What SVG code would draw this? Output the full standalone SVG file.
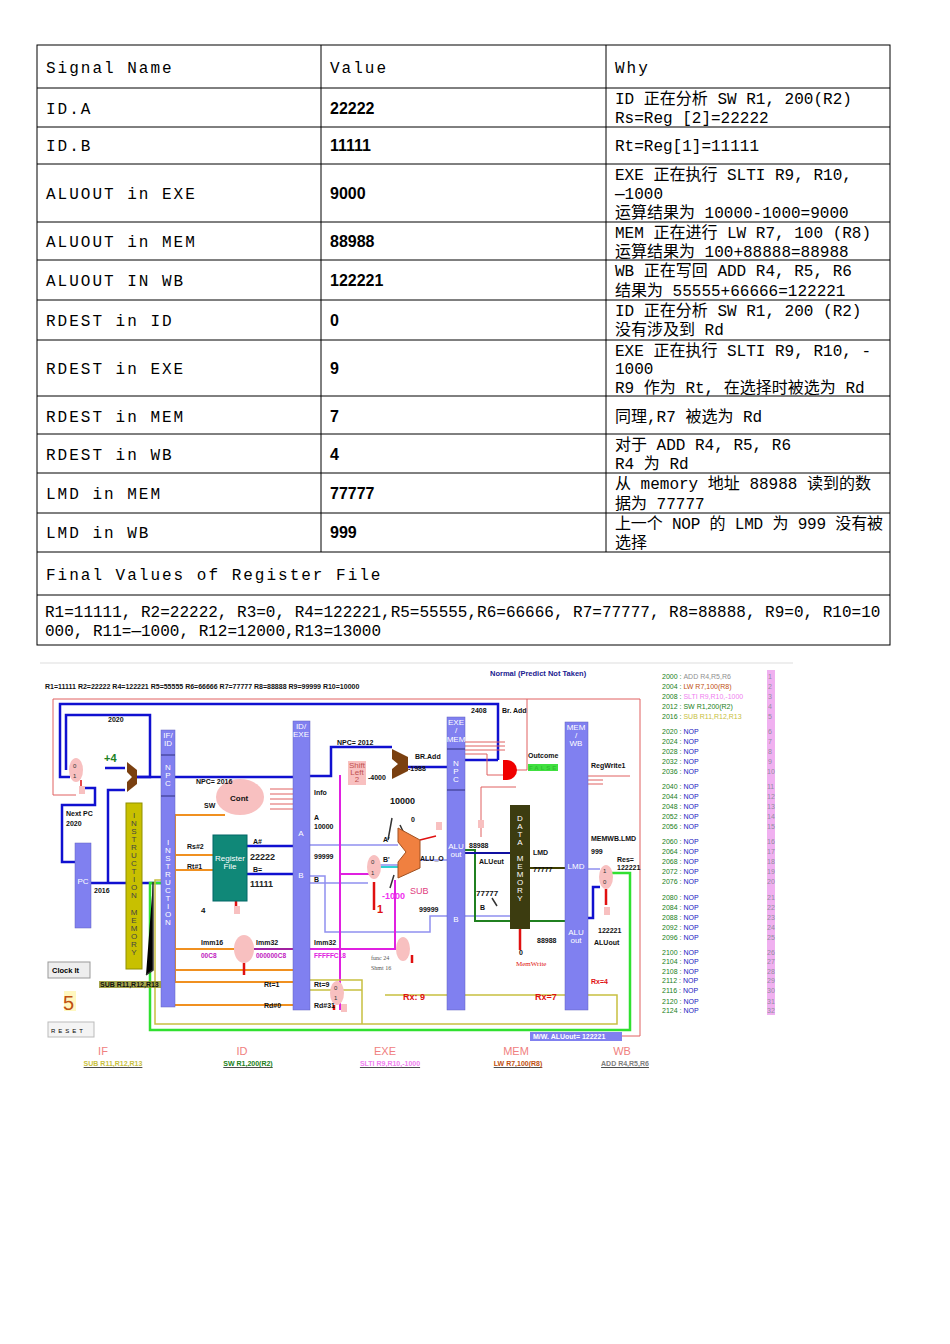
<svg xmlns="http://www.w3.org/2000/svg" width="950" height="1344" viewBox="0 0 950 1344">
<style>
.t{font-family:"Liberation Mono","Noto Sans CJK SC",monospace;font-size:16px;fill:#000}
.w{letter-spacing:2px}
.v{font-family:"Liberation Sans",sans-serif;font-size:16px;font-weight:bold;fill:#000}
.g{stroke:#000;stroke-width:1;fill:none}
.s{font-family:"Liberation Sans",sans-serif;font-size:7px;font-weight:bold;fill:#111}
.n{font-family:"Liberation Sans",sans-serif;font-size:8px;fill:#fff}
.bar{fill:#8080f0;stroke:#6060c0;stroke-width:.5}
.bl{stroke:#1010d0;stroke-width:2.5;fill:none}
.pk{stroke:#e06060;stroke-width:1;fill:none}
.lb{stroke:#9090f0;stroke-width:1.5;fill:none}
.or{stroke:#f09020;stroke-width:2;fill:none}
.ye{stroke:#c8c040;stroke-width:1.5;fill:none}
.gr{stroke:#30e030;stroke-width:2.5;fill:none}
.mg{stroke:#e020e0;stroke-width:2;fill:none}
.dg{stroke:#208020;stroke-width:2;fill:none}
.red{stroke:#e01010;stroke-width:2.5;fill:none}
.li{font-family:"Liberation Sans",sans-serif;font-size:7px;fill:#208020}
.nop{fill:#2020c0}
.num{font-family:"Liberation Sans",sans-serif;font-size:7px;fill:#9090a0}
</style>
<rect width="950" height="1344" fill="#fff"/>
<g id="table">
<rect x="37" y="45" width="853" height="600" class="g"/>
<path class="g" d="M37 88H890M37 127H890M37 164H890M37 222H890M37 260H890M37 300H890M37 340H890M37 396H890M37 434H890M37 473H890M37 513H890M37 552H890M37 595H890M321 45V552M606 45V552"/>
<g class="t w">
<text x="46" y="73">Signal Name</text><text x="330" y="73">Value</text><text x="615" y="73">Why</text>
<text x="46" y="114">ID.A</text><text x="46" y="151">ID.B</text><text x="46" y="199">ALUOUT in EXE</text>
<text x="46" y="247">ALUOUT in MEM</text><text x="46" y="286">ALUOUT IN WB</text><text x="46" y="326">RDEST in ID</text>
<text x="46" y="374">RDEST in EXE</text><text x="46" y="422">RDEST in MEM</text><text x="46" y="460">RDEST in WB</text>
<text x="46" y="499">LMD in MEM</text><text x="46" y="538">LMD in WB</text><text x="46" y="580">Final Values of Register File</text>
</g>
<g class="v">
<text x="330" y="114">22222</text><text x="330" y="151">11111</text><text x="330" y="199">9000</text>
<text x="330" y="247">88988</text><text x="330" y="286">122221</text><text x="330" y="326">0</text>
<text x="330" y="374">9</text><text x="330" y="422">7</text><text x="330" y="460">4</text>
<text x="330" y="499">77777</text><text x="330" y="538">999</text>
</g>
<g class="t">
<text x="615" y="104">ID 正在分析 SW R1, 200(R2)</text><text x="615" y="123">Rs=Reg [2]=22222</text>
<text x="615" y="151">Rt=Reg[1]=11111</text>
<text x="615" y="180">EXE 正在执行 SLTI R9,  R10,</text><text x="615" y="199">—1000</text><text x="615" y="218">运算结果为 10000-1000=9000</text>
<text x="615" y="238">MEM 正在进行 LW R7, 100 (R8)</text><text x="615" y="257">运算结果为 100+88888=88988</text>
<text x="615" y="276">WB 正在写回 ADD R4,  R5, R6</text><text x="615" y="296">结果为 55555+66666=122221</text>
<text x="615" y="316">ID 正在分析 SW R1, 200 (R2)</text><text x="615" y="335">没有涉及到 Rd</text>
<text x="615" y="356">EXE 正在执行 SLTI R9,  R10, -</text><text x="615" y="374">1000</text><text x="615" y="393">R9 作为 Rt, 在选择时被选为 Rd</text>
<text x="615" y="422">同理,R7 被选为 Rd</text>
<text x="615" y="450">对于 ADD R4, R5,  R6</text><text x="615" y="469">R4 为 Rd</text>
<text x="615" y="489">从 memory 地址 88988 读到的数</text><text x="615" y="509">据为 77777</text>
<text x="615" y="529" textLength="268">上一个 NOP 的 LMD 为 999 没有被</text><text x="615" y="548">选择</text>
<text x="45" y="617">R1=11111, R2=22222, R3=0, R4=122221,R5=55555,R6=66666, R7=77777, R8=88888, R9=0, R10=10</text>
<text x="45" y="636">000, R11=—1000, R12=12000,R13=13000</text>
</g>
</g>
<g id="connectors">
<path d="M40 663H793" stroke="#ddd" stroke-width="1"/>
<path class="pk" d="M640 699H53V795H76"/>
<path class="pk" d="M640 699V1036H622"/>
<path class="bl" d="M498 760V704H60V777H70"/>
<path class="bl" d="M66 770V715H150V777H136"/>
<path class="bl" d="M82 788H95V805H62V862H75"/>
<path class="bl" d="M91 883H161M108 883V790H125M105 768H125"/>
<path class="bl" d="M137 777H293M310 776H331V747H392M408 767H447M465 760H498"/>
<path class="pk" d="M465 742H505M465 746H505M465 750H505M465 754H487V775H503M481 837V787H516M516 770H527V699"/>
<path class="pk" d="M270 789H310M270 794H310M270 799H310M270 804H310M270 809H310M588 776H630M588 780H603M588 784H603"/>
<path class="or" d="M162 871H175M175 815V982H293M175 815H225M175 855H213M175 870H213M175 949H234M175 970H293M175 1005H293"/>
<path d="M254 949H293" stroke="#a020a0" stroke-width="2" fill="none"/>
<path class="bl" d="M247 846H293M247 874H293"/>
<path class="lb" d="M310 845H398M310 876H325V932H430V916H447M310 883H368M380 865H398M420 860H447M465 916H510M588 869H600"/>
<path class="mg" d="M366 775H348M340 775V1010M340 874H370"/>
<path class="mg" d="M310 949H395V880"/>
<path stroke="#30d0d0" stroke-width="2" d="M380 867H398"/>
<path class="red" d="M374 882V910M244 963V975M412 955V963M520 929V950M606 889V905M236 901V910M334 1005V1010"/>
<path stroke="#e01010" stroke-width="1.5" fill="none" d="M420 840L436 836M81 780V790"/>
<path class="dg" d="M465 850H475V921H565"/>
<path stroke="#1010a0" stroke-width="2" fill="none" d="M465 853H510"/>
<path stroke="#404000" stroke-width="2" d="M530 868H565"/>
<path class="bl" d="M588 918H593V887H600"/>
<path class="gr" d="M612 873H630V1030H150V883H165"/>
<path class="ye" d="M310 980H362V1024H155V880H165M310 990H334M340 990H362M385 995H565M588 995H617V1024H362"/>
<path stroke="#333" stroke-width="1.5" d="M153 882V970L146 975M388 840L392 818M400 825L412 850M394 875L390 888M492 898L497 906"/>
</g>
<g id="stage-bars">
<rect class="bar" x="161" y="730" width="14" height="277"/>
<rect class="bar" x="75" y="843" width="16" height="85"/>
<rect class="bar" x="293" y="721" width="17" height="289"/>
<rect class="bar" x="447" y="717" width="18" height="293"/>
<rect class="bar" x="565" y="722" width="23" height="288"/>
<rect x="126" y="803" width="16" height="166" fill="#c8c000" stroke="#909000"/>
<rect x="510" y="805" width="20" height="124" fill="#3c3c10"/>
<rect x="213" y="835" width="34" height="66" fill="#108878" stroke="#066"/>
<rect x="530" y="1032" width="92" height="9" fill="#8080f0"/>
<path d="M161 755H175M161 796H175M447 749H465M447 790H465" stroke="#303080"/>
<path d="M127 762L137 770V784L127 792V782L132 777L127 772Z" fill="#7a4010"/>
<path d="M392 749L408 757V771L392 779V769L398 764L392 759Z" fill="#7a4010"/>
<path d="M398 828L420 840V868L398 878V862L406 852L398 842Z" fill="#f08040" stroke="#a05020"/>
<path d="M503 760H507A10 10 0 0 1 507 780H503Z" fill="#f00000"/>
<ellipse cx="76" cy="770" rx="7" ry="12" fill="#f8c0c0"/>
<ellipse cx="240" cy="797" rx="24" ry="18" fill="#f8c0c0"/>
<ellipse cx="244" cy="949" rx="10" ry="14" fill="#f8c0c0"/>
<ellipse cx="374" cy="867" rx="7" ry="12" fill="#f8c0c0"/>
<ellipse cx="403" cy="949" rx="7" ry="12" fill="#f8c0c0"/>
<ellipse cx="337" cy="993" rx="7" ry="12" fill="#f8c0c0"/>
<ellipse cx="606" cy="877" rx="7" ry="12" fill="#f8c0c0"/>
<rect x="348" y="761" width="18" height="24" fill="#f8c0c0"/>
<rect x="528" y="764" width="30" height="7" fill="#40e040"/>
</g>
<g id="labels">
<text x="490" y="676" font-family="Liberation Sans" font-size="7.5" font-weight="bold" fill="#202090">Normal (Predict Not Taken)</text>
<text x="45" y="689" class="s">R1=11111  R2=22222  R4=122221  R5=55555  R6=66666  R7=77777  R8=88888  R9=99999  R10=10000</text>
<g class="s">
<text x="108" y="722">2020</text><text x="66" y="816">Next PC</text><text x="66" y="826">2020</text><text x="94" y="893">2016</text>
<text x="196" y="784">NPC= 2016</text><text x="204" y="808">SW</text><text x="187" y="849">Rs#2</text><text x="187" y="869">Rt#1</text>
<text x="253" y="844">A#</text><text x="253" y="872">B=</text><text x="201" y="945">Imm16</text><text x="256" y="945">Imm32</text><text x="314" y="945">Imm32</text>
<text x="264" y="987">Rt=1</text><text x="264" y="1008">Rd#0</text><text x="314" y="987">Rt=9</text><text x="314" y="1008">Rd#31</text>
<text x="337" y="745">NPC= 2012</text><text x="415" y="759">BR.Add</text><text x="408" y="771">-1988</text><text x="368" y="780">-4000</text>
<text x="471" y="713">2408</text><text x="502" y="713">Br. Add</text><text x="528" y="758">Outcome</text><text x="591" y="768">RegWrite1</text>
<text x="314" y="795">Info</text><text x="314" y="820">A</text><text x="314" y="829">10000</text><text x="314" y="859">99999</text><text x="314" y="882">B</text>
<text x="383" y="842">A'</text><text x="383" y="862">B'</text><text x="420" y="861">ALU_O</text><text x="411" y="822">0</text>
<text x="469" y="848">88988</text><text x="479" y="864">ALUeut</text><text x="533" y="855">LMD</text><text x="533" y="872">77777</text>
<text x="419" y="912">99999</text><text x="480" y="910">B</text><text x="537" y="943">88988</text><text x="591" y="841">MEMWB.LMD</text><text x="591" y="854">999</text>
<text x="617" y="862">Res=</text><text x="617" y="870">122221</text><text x="598" y="933">122221</text><text x="594" y="945">ALUout</text>
<text x="533" y="1039" fill="#fff">M/W. ALUout=   122221</text>
</g>
<rect x="99" y="981" width="62" height="7" fill="#909020" opacity=".8"/>
<text x="100" y="987" class="s" fill="#fff" font-size="6">SUB R11,R12,R13</text>
<g font-family="Liberation Sans" font-weight="bold">
<text x="104" y="762" font-size="11" fill="#208020">+4</text>
<text x="230" y="801" font-size="8" fill="#111">Cont</text>
<text x="250" y="860" font-size="9" fill="#222">22222</text><text x="250" y="887" font-size="9" fill="#222">11111</text>
<text x="390" y="804" font-size="9" fill="#111">10000</text><text x="382" y="899" font-size="9" fill="#f030f0">-1000</text>
<text x="377" y="913" font-size="11" fill="#e01010">1</text><text x="201" y="958" font-size="6.5" fill="#c020c0">00C8</text>
<text x="256" y="958" font-size="6.5" fill="#c020c0">000000C8</text><text x="314" y="958" font-size="6.5" fill="#e020e0">FFFFFC18</text>
<text x="403" y="1000" font-size="9" fill="#e01010">Rx: 9</text><text x="535" y="1000" font-size="9" fill="#e01010">Rx=7</text>
<text x="591" y="984" font-size="7" fill="#e01010">Rx=4</text><text x="476" y="896" font-size="8" fill="#111">77777</text>
<text x="201" y="913" font-size="8" fill="#111">4</text>
</g>
<text x="410" y="894" font-family="Liberation Sans" font-size="9" fill="#e04080">SUB</text>
<text x="371" y="960" font-family="Liberation Serif" font-size="6" fill="#555">func 24</text>
<text x="371" y="970" font-family="Liberation Serif" font-size="6" fill="#555">Shmt 16</text>
<text x="516" y="966" font-family="Liberation Serif" font-size="7" fill="#e01010">MemWrite</text>
<text x="519" y="955" class="s" fill="#e01010">0</text>
<g class="n" text-anchor="middle">
<text x="168" y="738">IF/</text><text x="168" y="746">ID</text>
<text x="168" y="770">N</text><text x="168" y="778">P</text><text x="168" y="786">C</text>
<text x="168" y="845">I</text><text x="168" y="853">N</text><text x="168" y="861">S</text><text x="168" y="869">T</text><text x="168" y="877">R</text><text x="168" y="885">U</text><text x="168" y="893">C</text><text x="168" y="901">T</text><text x="168" y="909">I</text><text x="168" y="917">O</text><text x="168" y="925">N</text>
<text x="301" y="729">ID/</text><text x="301" y="737">EXE</text><text x="301" y="836">A</text><text x="301" y="878">B</text>
<text x="456" y="725">EXE</text><text x="456" y="733">/</text><text x="456" y="742">MEM</text><text x="456" y="766">N</text><text x="456" y="774">P</text><text x="456" y="782">C</text>
<text x="456" y="849">ALU</text><text x="456" y="857">out</text><text x="456" y="922">B</text>
<text x="576" y="730">MEM</text><text x="576" y="738">/</text><text x="576" y="746">WB</text><text x="576" y="869">LMD</text><text x="576" y="935">ALU</text><text x="576" y="943">out</text>
<text x="83" y="884">PC</text>
<text x="230" y="861">Register</text><text x="230" y="869">File</text>
<text x="357" y="768" fill="#c05050">Shift</text><text x="357" y="775" fill="#c05050">Left</text><text x="357" y="782" fill="#c05050">2</text>
<text x="520" y="821">D</text><text x="520" y="829">A</text><text x="520" y="837">T</text><text x="520" y="845">A</text>
<text x="520" y="861">M</text><text x="520" y="869">E</text><text x="520" y="877">M</text><text x="520" y="885">O</text><text x="520" y="893">R</text><text x="520" y="901">Y</text>
</g>
<g font-family="Liberation Sans" font-size="8" fill="#444" text-anchor="middle">
<text x="134" y="818">I</text><text x="134" y="826">N</text><text x="134" y="834">S</text><text x="134" y="842">T</text><text x="134" y="850">R</text><text x="134" y="858">U</text><text x="134" y="866">C</text><text x="134" y="874">T</text><text x="134" y="882">I</text><text x="134" y="890">O</text><text x="134" y="898">N</text>
<text x="134" y="915">M</text><text x="134" y="923">E</text><text x="134" y="931">M</text><text x="134" y="939">O</text><text x="134" y="947">R</text><text x="134" y="955">Y</text>
</g>
<g font-family="Liberation Sans" font-size="6" fill="#333">
<text x="73" y="768">0</text><text x="73" y="778">1</text><text x="371" y="864">0</text><text x="371" y="875">1</text>
<text x="334" y="990">0</text><text x="334" y="1000">1</text><text x="603" y="873">1</text><text x="603" y="884">0</text>
</g>
<rect x="48" y="962" width="42" height="16" fill="#eee" stroke="#999"/>
<text x="52" y="973" font-family="Liberation Sans" font-size="7.5" font-weight="bold">Clock It</text>
<rect x="64" y="991" width="12" height="20" fill="#fff8c0"/>
<text x="63" y="1010" font-family="Liberation Sans" font-size="20" fill="#c05010">5</text>
<rect x="48" y="1022" width="46" height="15" fill="#f4f4f4" stroke="#bbb"/>
<text x="51" y="1033" font-family="Liberation Sans" font-size="6" letter-spacing="3">RESET</text>
<g font-family="Liberation Sans" font-size="11" fill="#f08080" text-anchor="middle">
<text x="103" y="1055">IF</text><text x="242" y="1055">ID</text><text x="385" y="1055">EXE</text><text x="516" y="1055">MEM</text><text x="622" y="1055">WB</text>
</g>
<g font-family="Liberation Sans" font-size="7" font-weight="bold" text-anchor="middle" text-decoration="underline">
<text x="113" y="1066" fill="#c8c040">SUB R11,R12,R13</text><text x="248" y="1066" fill="#208020">SW R1,200(R2)</text>
<text x="390" y="1066" fill="#f080f0">SLTI R9,R10,-1000</text><text x="518" y="1066" fill="#c05010">LW R7,100(R8)</text>
<text x="625" y="1066" fill="#808080">ADD R4,R5,R6</text>
</g>
<text x="529" y="770" font-family="Liberation Sans" font-size="6" font-weight="bold" letter-spacing="2" fill="#30c030">FALSE</text>
<g fill="#f8c0c0">
<rect x="79" y="786" width="6" height="8"/><rect x="234" y="906" width="6" height="8"/>
<rect x="436" y="822" width="6" height="8"/><rect x="478" y="820" width="6" height="8"/>
<rect x="341" y="1004" width="6" height="8"/><rect x="604" y="907" width="6" height="8"/>
</g>
</g>
<g id="program-list" font-family="Liberation Sans" font-size="7">
<rect x="767" y="670" width="8" height="345" fill="#f0b0f0"/>
<text x="662" y="679"><tspan class="li">2000 : </tspan><tspan fill="#909090">ADD R4,R5,R6</tspan></text>
<text x="662" y="689"><tspan class="li">2004 : </tspan><tspan fill="#c05010">LW R7,100(R8)</tspan></text>
<text x="662" y="699"><tspan class="li">2008 : </tspan><tspan fill="#f080f0">SLTI R9,R10,-1000</tspan></text>
<text x="662" y="709"><tspan class="li">2012 : </tspan><tspan fill="#208020">SW R1,200(R2)</tspan></text>
<text x="662" y="719"><tspan class="li">2016 : </tspan><tspan fill="#c8c040">SUB R11,R12,R13</tspan></text>
<g class="li">
<text x="662" y="734">2020 : <tspan class="nop">NOP</tspan></text><text x="662" y="744">2024 : <tspan class="nop">NOP</tspan></text><text x="662" y="754">2028 : <tspan class="nop">NOP</tspan></text><text x="662" y="764">2032 : <tspan class="nop">NOP</tspan></text><text x="662" y="774">2036 : <tspan class="nop">NOP</tspan></text>
<text x="662" y="789">2040 : <tspan class="nop">NOP</tspan></text><text x="662" y="799">2044 : <tspan class="nop">NOP</tspan></text><text x="662" y="809">2048 : <tspan class="nop">NOP</tspan></text><text x="662" y="819">2052 : <tspan class="nop">NOP</tspan></text><text x="662" y="829">2056 : <tspan class="nop">NOP</tspan></text>
<text x="662" y="844">2060 : <tspan class="nop">NOP</tspan></text><text x="662" y="854">2064 : <tspan class="nop">NOP</tspan></text><text x="662" y="864">2068 : <tspan class="nop">NOP</tspan></text><text x="662" y="874">2072 : <tspan class="nop">NOP</tspan></text><text x="662" y="884">2076 : <tspan class="nop">NOP</tspan></text>
<text x="662" y="900">2080 : <tspan class="nop">NOP</tspan></text><text x="662" y="910">2084 : <tspan class="nop">NOP</tspan></text><text x="662" y="920">2088 : <tspan class="nop">NOP</tspan></text><text x="662" y="930">2092 : <tspan class="nop">NOP</tspan></text><text x="662" y="940">2096 : <tspan class="nop">NOP</tspan></text>
<text x="662" y="955">2100 : <tspan class="nop">NOP</tspan></text><text x="662" y="964">2104 : <tspan class="nop">NOP</tspan></text><text x="662" y="974">2108 : <tspan class="nop">NOP</tspan></text><text x="662" y="983">2112 : <tspan class="nop">NOP</tspan></text><text x="662" y="993">2116 : <tspan class="nop">NOP</tspan></text>
<text x="662" y="1004">2120 : <tspan class="nop">NOP</tspan></text><text x="662" y="1013">2124 : <tspan class="nop">NOP</tspan></text>
</g>
<g class="num">
<text x="768" y="679">1</text><text x="768" y="689">2</text><text x="768" y="699">3</text><text x="768" y="709">4</text><text x="768" y="719">5</text>
<text x="768" y="734">6</text><text x="768" y="744">7</text><text x="768" y="754">8</text><text x="768" y="764">9</text><text x="767" y="774">10</text>
<text x="767" y="789">11</text><text x="767" y="799">12</text><text x="767" y="809">13</text><text x="767" y="819">14</text><text x="767" y="829">15</text>
<text x="767" y="844">16</text><text x="767" y="854">17</text><text x="767" y="864">18</text><text x="767" y="874">19</text><text x="767" y="884">20</text>
<text x="767" y="900">21</text><text x="767" y="910">22</text><text x="767" y="920">23</text><text x="767" y="930">24</text><text x="767" y="940">25</text>
<text x="767" y="955">26</text><text x="767" y="964">27</text><text x="767" y="974">28</text><text x="767" y="983">29</text><text x="767" y="993">30</text>
<text x="767" y="1004">31</text><text x="767" y="1013">32</text>
</g>
</g>
</svg>
